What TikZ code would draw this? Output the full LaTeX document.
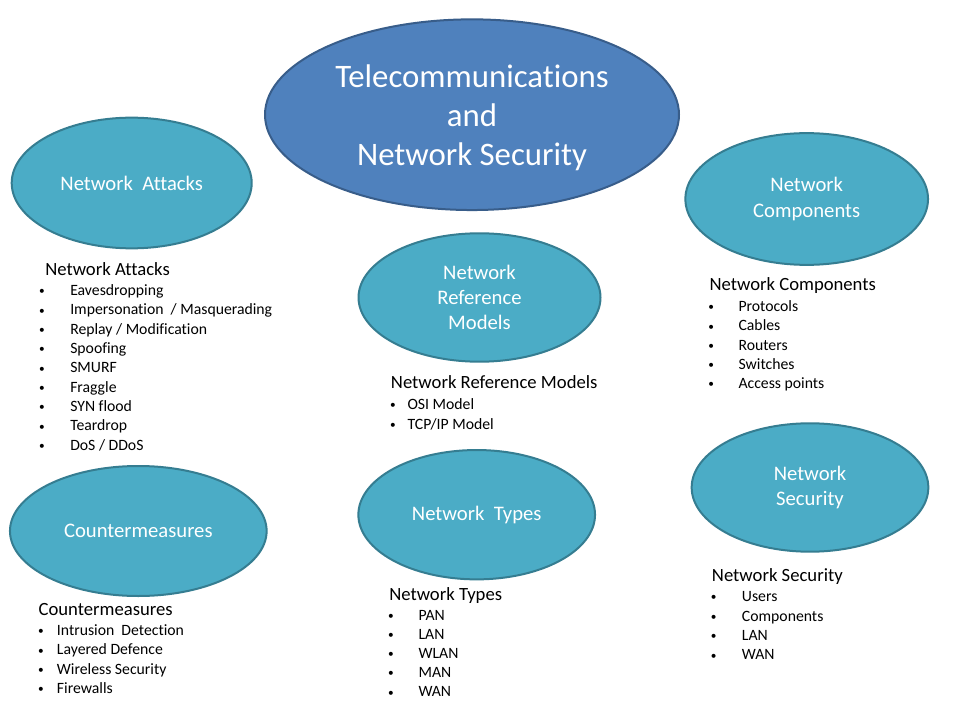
\documentclass[tikz,border=0pt]{standalone}
\usepackage{fontspec}
\setmainfont{Carlito}[Ligatures={NoCommon}]
\usetikzlibrary{shapes.geometric}
\definecolor{mainfill}{HTML}{4F81BD}
\definecolor{mainline}{HTML}{385D8A}
\definecolor{tealfill}{HTML}{4BACC6}
\definecolor{tealline}{HTML}{357D91}
\newcommand\bul[1]{\llap{\makebox[0pt][c]{\raisebox{0.6pt}{\scalebox{0.72}{\textbullet}}}\hspace{#1}}}
\begin{document}
\begin{tikzpicture}[x=0.75pt,y=-0.75pt,
  topic/.style={ellipse, draw=tealline, fill=tealfill, line width=1.5pt, inner sep=0pt,
    text=white, align=center, font=\fontsize{15.5}{19}\selectfont},
  mainbox/.style={ellipse, draw=mainline, fill=mainfill, line width=1.5pt, inner sep=0pt},
  maintext/.style={inner sep=0pt, text=white, align=center, font=\fontsize{24.6}{29.3}\selectfont},
  head/.style={anchor=base west, inner sep=0pt, font=\fontsize{14}{17}\selectfont},
  item/.style={anchor=base west, inner sep=0pt, font=\fontsize{11.8}{14}\selectfont}]
\useasboundingbox (0,0) rectangle (960,720);
\fill[white] (0,0) rectangle (960,720);

% ellipses
\node[mainbox, minimum width=310.5pt, minimum height=143pt] (main) at (472,114.7) {};
\node[maintext] (maintitle) at ([yshift=-2.6pt]main.center)
  {Telecommunications\\and\\Network Security};
\node[topic, minimum width=180pt, minimum height=98pt] (attacks) at (131.7,183) {Network~ Attacks};
\node[topic, minimum width=182pt, minimum height=98.8pt] (components) at (806.7,199) {Network\\Components};
\node[topic, minimum width=181.5pt, minimum height=96.3pt] (models) at (479.5,297.5) {Network\\Reference\\Models};
\node[topic, minimum width=192.5pt, minimum height=97.5pt] (counter) at (138.3,531) {Countermeasures};
\node[topic, minimum width=177.5pt, minimum height=97pt] (types) at (476.7,514.7) {Network~ Types};
\node[topic, minimum width=177.5pt, minimum height=96.3pt] (security) at (810,487.5) {Network\\Security};

% Network Attacks list
\node[head] (attH) at (45,275.7) {Network Attacks};
\foreach \t [count=\i] in {Eavesdropping, Impersonation~ / Masquerading, Replay / Modification,
  Spoofing, SMURF, Fraggle, SYN flood, Teardrop, DoS / DDoS}
  \node[item] (att\i) at (70,{295.7+19.3*(\i-1)}) {\bul{21.2pt}\t};

% Network Components list
\node[head] (comH) at (709.3,291) {Network Components};
\foreach \t [count=\i] in {Protocols, Cables, Routers, Switches, Access points}
  \node[item] (com\i) at (738.3,{311.7+19.15*(\i-1)}) {\bul{20.5pt}\t};

% Network Reference Models list
\node[head] (modH) at (390.7,388.3) {Network Reference Models};
\foreach \t [count=\i] in {OSI Model, TCP/IP Model}
  \node[item] (mod\i) at (407.3,{409+20*(\i-1)}) {\bul{11pt}\t};

% Countermeasures list
\node[head] (ctrH) at (38.3,615.7) {Countermeasures};
\foreach \t [count=\i] in {Intrusion~ Detection, Layered Defence, Wireless Security, Firewalls}
  \node[item] (ctr\i) at (56.7,{635.7+19.2*(\i-1)}) {\bul{12pt}\t};

% Network Types list
\node[head] (typH) at (389,600) {Network Types};
\foreach \t [count=\i] in {PAN, LAN, WLAN, MAN, WAN}
  \node[item] (typ\i) at (418.3,{620+19.2*(\i-1)}) {\bul{20.7pt}\t};

% Network Security list
\node[head] (secH) at (711.7,581.7) {Network Security};
\foreach \t [count=\i] in {Users, Components, LAN, WAN}
  \node[item] (sec\i) at (741.7,{601.7+19.4*(\i-1)}) {\bul{21.3pt}\t};
\end{tikzpicture}
\end{document}
